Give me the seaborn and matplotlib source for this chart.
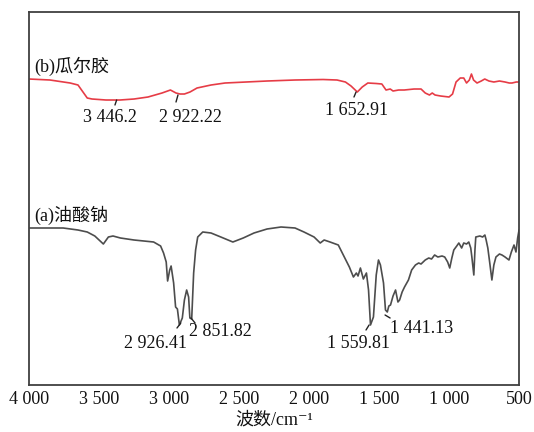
import matplotlib
matplotlib.use("Agg")
import matplotlib.pyplot as plt
import seaborn as sns
import pandas as pd

# ---- data (arbitrary transmittance units, offset curves) ----
wn_b = [4000, 3850, 3706, 3650, 3584, 3550, 3450, 3350, 3250, 3150, 3050, 2990, 2950,
        2922, 2890, 2850, 2800, 2700, 2600, 2450, 2300, 2100, 1900, 1800, 1740, 1700,
        1655, 1620, 1580, 1520, 1480, 1450, 1420, 1400, 1360, 1320, 1250, 1200, 1170,
        1140, 1120, 1100, 1060, 1000, 975, 950, 920, 895, 875, 855, 840, 825, 800, 770,
        745, 715, 680, 640, 600, 570, 550, 520, 500]
t_b = [306, 305, 302, 300, 287, 286, 285, 285, 286, 288, 292, 295, 292,
       291, 291, 293, 297, 300, 302, 303, 304, 305, 305.5, 305, 303, 299,
       293, 298, 302, 301.5, 301, 295, 296, 294, 295, 295, 296, 296, 292,
       290, 292, 290, 289, 288, 291, 303, 307, 307, 302, 305, 311, 305, 302, 304,
       306, 304, 303, 304, 303, 302, 302, 303, 303]

wn_a = [4000, 3850, 3756, 3650, 3584, 3530, 3469, 3433, 3400, 3347, 3250, 3110, 3060,
        3039, 3020, 3010, 2995, 2985, 2967, 2953, 2940, 2926, 2905, 2890, 2874, 2860,
        2851, 2838, 2824, 2810, 2795, 2759, 2700, 2630, 2544, 2470, 2393, 2300, 2200,
        2100, 2036, 1964, 1920, 1892, 1850, 1791, 1748, 1712, 1683, 1662, 1650, 1633,
        1612, 1590, 1575, 1561, 1540, 1520, 1504, 1490, 1468, 1454, 1441, 1430, 1418,
        1400, 1382, 1365, 1353, 1335, 1318, 1290, 1267, 1240, 1217, 1200, 1170, 1145,
        1125, 1103, 1080, 1050, 1031, 1010, 995, 980, 966, 945, 930, 910, 895, 875,
        859, 845, 837, 823, 815, 809, 780, 760, 744, 735, 723, 710, 694, 680, 665,
        640, 622, 600, 572, 555, 536, 522, 510, 500]
t_a = [157, 157, 157, 155, 153, 149, 141, 148, 149, 147, 145, 143, 139,
       132, 123, 104, 115, 119, 102, 78, 76, 60, 67, 85, 95, 88,
       67, 66, 112, 135, 148, 153, 152, 148, 143, 147, 152, 156, 158,
       157, 153, 148, 142, 145, 143, 140, 128, 118, 108, 112, 109, 117,
       106, 112, 95, 60, 68, 110, 125, 120, 102, 75, 73, 79, 80,
       89, 95, 83, 85, 93, 98, 105, 115, 120, 122, 121, 125, 127,
       126, 130, 128, 129, 128, 123, 117, 127, 135, 139, 142, 137, 142, 141,
       143, 137, 128, 110, 135, 148, 149, 148, 150, 145, 137, 123, 105, 120, 128,
       131, 130, 128, 125, 133, 140, 133, 147, 155]

series_labels = ["(b)瓜尔胶", "(a)油酸钠"]
peak_labels = ["3 446.2", "2 922.22", "1 652.91",
               "2 926.41", "2 851.82", "1 559.81", "1 441.13"]
xticks = [4000, 3500, 3000, 2500, 2000, 1500, 1000, 500]
xtick_labels = ["4 000", "3 500", "3 000", "2 500", "2 000", "1 500", "1 000", "500"]
xlabel = "波数/cm⁻¹"

df = pd.concat([
    pd.DataFrame({"wn": wn_b, "T": t_b, "s": series_labels[0]}),
    pd.DataFrame({"wn": wn_a, "T": t_a, "s": series_labels[1]}),
])

sns.set_theme(style="white")
plt.rcParams["font.family"] = ["Liberation Serif", "Noto Sans CJK SC", "DejaVu Sans"]
plt.rcParams["text.color"] = "#111111"
plt.rcParams["axes.labelcolor"] = "#111111"
plt.rcParams["xtick.labelcolor"] = "#111111"

FS = 13
fig = plt.figure(figsize=(5.34, 4.32), dpi=100)
ax = fig.add_axes([0.0543, 0.1088, 0.9177, 0.8634])

sns.lineplot(data=df, x="wn", y="T", hue="s", sort=False, estimator=None,
             palette={series_labels[0]: "#e63c46", series_labels[1]: "#4d4d4d"},
             linewidth=1.2, legend=False, ax=ax)

ax.set_xlim(4000, 500)
ax.set_ylim(0, 373)
ax.set_xticks(xticks)
ax.set_xticklabels(xtick_labels, fontsize=FS)
ax.set_yticks([])
ax.set_ylabel("")
ax.set_xlabel(xlabel, fontsize=FS, labelpad=3)
ax.tick_params(axis="x", direction="in", length=4, width=1, color="#404040", pad=4)
for sp in ax.spines.values():
    sp.set_color("#404040")
    sp.set_linewidth(1.3)

# series labels
ax.text(3965, 319, series_labels[0], fontsize=FS, va="center", ha="left")
ax.text(3965, 170, series_labels[1], fontsize=FS, va="center", ha="left")

# peak annotations: text centre and short leader segment
text_xy = [(3421, 268), (2850, 268), (1657, 275),
           (3100, 41), (2636, 53), (1650, 41), (1193, 57)]
leaders = [((3374, 285), (3386, 280)), ((2936, 290), (2950, 283)),
           ((1664, 293), (1679, 288)), ((2916, 62), (2943, 57)),
           ((2843, 67), (2814, 62)), ((1571, 60), (1593, 55)),
           ((1457, 70), (1421, 67))]
for lab, tx, (p0, p1) in zip(peak_labels, text_xy, leaders):
    ax.text(tx[0], tx[1], lab, fontsize=FS, ha="center", va="center")
    ax.plot([p0[0], p1[0]], [p0[1], p1[1]], color="#222222", lw=1.0)

fig.savefig("out.png", dpi=100)
